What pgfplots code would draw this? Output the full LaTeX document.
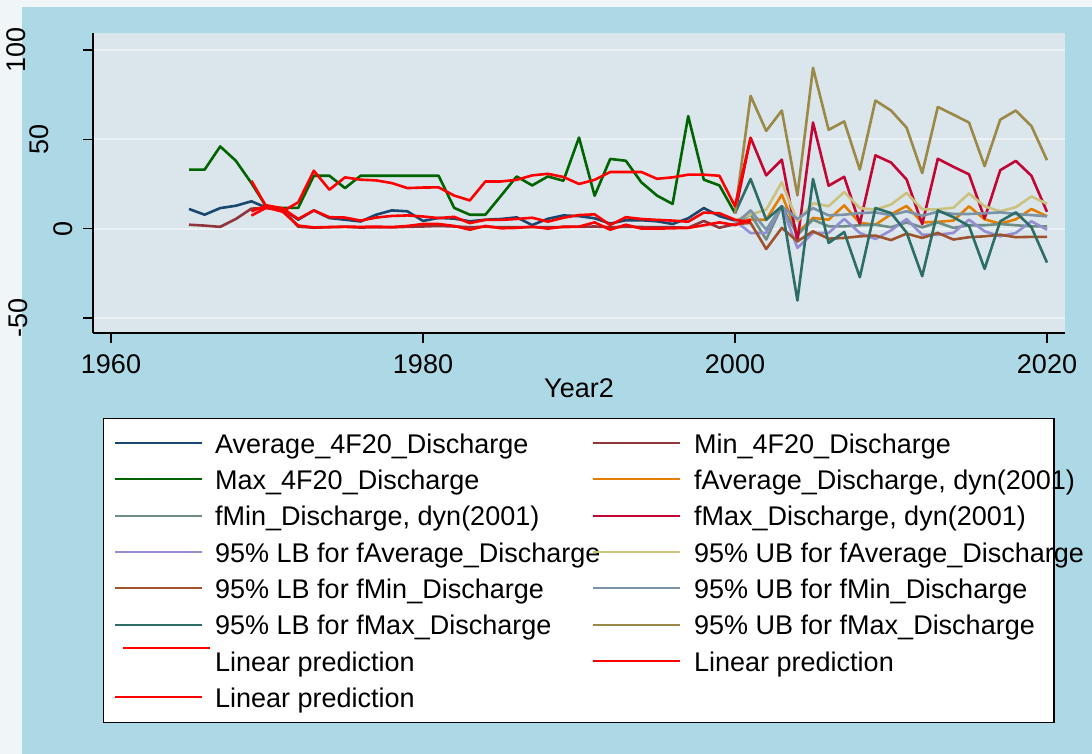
\documentclass[border=0pt]{standalone}
\usepackage{pgfplots}
\pgfplotsset{compat=1.18}
\usepackage{fontspec}
\setmainfont{Liberation Sans}

% Stata s2color palette
\definecolor{pagewhite}{RGB}{240,246,248}
\definecolor{graphblue}{RGB}{173,216,230}
\definecolor{plotbg}{RGB}{218,230,235}
\definecolor{gridc}{RGB}{236,242,244}
\definecolor{snavy}{RGB}{26,71,111}
\definecolor{smaroon}{RGB}{144,53,59}
\definecolor{sgreen}{RGB}{0,100,0}
\definecolor{sdkorange}{RGB}{227,126,0}
\definecolor{steal}{RGB}{110,142,132}
\definecolor{scranberry}{RGB}{193,5,52}
\definecolor{slavender}{RGB}{147,141,210}
\definecolor{skhaki}{RGB}{202,194,126}
\definecolor{ssienna}{RGB}{160,82,45}
\definecolor{semidblue}{RGB}{123,146,168}
\definecolor{semerald}{RGB}{45,109,102}
\definecolor{sbrown}{RGB}{156,136,71}
\definecolor{sred}{RGB}{255,0,0}

\newcommand{\lbl}{\fontsize{27bp}{32bp}\selectfont}

\begin{document}
\begin{tikzpicture}
\begin{scope}[x=1bp,y=1bp]
\path[use as bounding box] (0,0) rectangle (1092,754);
\fill[pagewhite] (0,0) rectangle (1092,754);
\fill[graphblue] (21.7,0) rectangle (1092,747.3);
\end{scope}

\begin{axis}[
  at={(93bp,421bp)}, anchor=south west,
  scale only axis, width=972bp, height=300bp,
  xmin=1958.846, xmax=2021.154,
  ymin=-58.4, ymax=109.5,
  axis x line*=bottom, axis y line*=left,
  axis line style={black, line width=1.3bp, -},
  axis background/.style={fill=plotbg},
  xtick={1960,1980,2000,2020},
  xticklabels={1960,1980,2000,2020},
  ytick={-50,0,50,100},
  yticklabels={},
  tick align=outside,
  major tick length=10bp,
  tick style={black, line width=1.3bp},
  ymajorgrids,
  grid style={gridc, line width=2bp},
  xticklabel style={font=\lbl, anchor=base, yshift=-30.3bp},
  xlabel={Year2},
  xlabel style={font=\lbl, at={(axis description cs:0.5,0)}, anchor=base, yshift=-65bp},
  every axis plot/.append style={line width=2.6bp, line join=round},
]
% observed series
\addplot[snavy] coordinates {(1965,11) (1966,7.8) (1967,11.5) (1968,12.8) (1969,15.3) (1970,11.6) (1971,11) (1972,5) (1973,10.2) (1974,5.9) (1975,5) (1976,4) (1977,7.8) (1978,10.2) (1979,9.7) (1980,4.3) (1981,6) (1982,5.6) (1983,4.1) (1984,5) (1985,5.4) (1986,6.3) (1987,2) (1988,5.5) (1989,7.4) (1990,7) (1991,5.8) (1992,2.8) (1993,4.7) (1994,4.7) (1995,4.1) (1996,2.6) (1997,5.8) (1998,11.5) (1999,7) (2000,4.5)};
\addplot[smaroon] coordinates {(1965,2.2) (1966,1.7) (1967,1) (1968,5.4) (1969,11.2) (1970,11.6) (1971,10.7) (1972,1.1) (1973,0.5) (1974,0.8) (1975,1) (1976,0.6) (1977,0.8) (1978,0.7) (1979,1) (1980,1.2) (1981,1.5) (1982,1.2) (1983,0.8) (1984,1) (1985,0.8) (1986,0.8) (1987,0.9) (1988,0.8) (1989,0.9) (1990,1) (1991,1.2) (1992,0.8) (1993,1) (1994,0.9) (1995,0.8) (1996,0.8) (1997,0.5) (1998,4.3) (1999,0.5) (2000,2.5)};
\addplot[sgreen] coordinates {(1965,33) (1966,33) (1967,46) (1968,38) (1969,25.5) (1970,11.6) (1971,11.6) (1972,11.6) (1973,29.6) (1974,29.6) (1975,22.7) (1976,29.6) (1977,29.6) (1978,29.6) (1979,29.6) (1980,29.6) (1981,29.6) (1982,11.6) (1983,7.8) (1984,7.8) (1985,18.4) (1986,29.2) (1987,24.2) (1988,29.2) (1989,26.8) (1990,51) (1991,18.4) (1992,39) (1993,38) (1994,25.9) (1995,18.5) (1996,13.8) (1997,63) (1998,27.4) (1999,24.2) (2000,8.7)};
% dynamic forecasts from 2001
\addplot[sdkorange] coordinates {(2000,4.5) (2001,5) (2002,5) (2003,19) (2004,-2.4) (2005,6) (2006,5) (2007,13) (2008,3.2) (2009,2.2) (2010,8) (2011,12.7) (2012,3.5) (2013,3.8) (2014,4.5) (2015,12.5) (2016,5.2) (2017,2.8) (2018,5.2) (2019,11) (2020,6.9)};
\addplot[steal] coordinates {(2000,2.5) (2001,8) (2002,-6.1) (2003,12.5) (2004,-3.4) (2005,5) (2006,1.3) (2007,1.3) (2008,1.9) (2009,2.2) (2010,0.8) (2011,3.5) (2012,0.7) (2013,3.5) (2014,0.4) (2015,1.9) (2016,1.9) (2017,2.6) (2018,1.9) (2019,1.3) (2020,1.3)};
\addplot[scranberry] coordinates {(2000,8.7) (2001,50.9) (2002,29.8) (2003,38.6) (2004,-7.1) (2005,59.4) (2006,24) (2007,29) (2008,2.8) (2009,41) (2010,37) (2011,27.5) (2012,2.5) (2013,39.1) (2014,34.6) (2015,30.4) (2016,5.7) (2017,32.7) (2018,37.9) (2019,29.6) (2020,9.4)};
% 95% bounds
\addplot[slavender] coordinates {(2000,4.5) (2001,-2.5) (2002,-2.4) (2003,12.5) (2004,-10.8) (2005,-2.4) (2006,-2.4) (2007,5.4) (2008,-2.4) (2009,-5.8) (2010,-1) (2011,5.4) (2012,-3.4) (2013,-3.4) (2014,-2.4) (2015,5) (2016,-1.5) (2017,-4.3) (2018,-2.4) (2019,4.1) (2020,-0.6)};
\addplot[skhaki] coordinates {(2000,4.5) (2001,8) (2002,10.6) (2003,26) (2004,4.1) (2005,14.2) (2006,12.6) (2007,20.5) (2008,11.5) (2009,10.6) (2010,13.5) (2011,20) (2012,10.8) (2013,10.8) (2014,11.7) (2015,19.7) (2016,12.5) (2017,9.7) (2018,12) (2019,18) (2020,13.9)};
\addplot[ssienna] coordinates {(2000,2.5) (2001,3.2) (2002,-11.4) (2003,0.4) (2004,-7.1) (2005,-1.5) (2006,-5.6) (2007,-5.2) (2008,-4.3) (2009,-3.9) (2010,-6.4) (2011,-2.8) (2012,-5.2) (2013,-2.4) (2014,-6.1) (2015,-4.8) (2016,-4.3) (2017,-3.4) (2018,-4.8) (2019,-4.6) (2020,-4.6)};
\addplot[semidblue] coordinates {(2000,2.5) (2001,10.2) (2002,-0.6) (2003,12.5) (2004,5.4) (2005,11.5) (2006,7.4) (2007,7.8) (2008,8.7) (2009,9.1) (2010,7.6) (2011,9.7) (2012,7.2) (2013,9.5) (2014,8.2) (2015,8.2) (2016,8.6) (2017,9.1) (2018,8.2) (2019,7.6) (2020,6.9)};
\addplot[semerald] coordinates {(2000,8.7) (2001,27.8) (2002,5) (2003,12.5) (2004,-40.2) (2005,27.8) (2006,-8) (2007,-1.9) (2008,-27.2) (2009,11.5) (2010,8.7) (2011,-2.2) (2012,-26.6) (2013,10.2) (2014,6.4) (2015,1.5) (2016,-22.5) (2017,4.1) (2018,9.1) (2019,0.8) (2020,-19)};
\addplot[sbrown] coordinates {(2000,8.7) (2001,74.3) (2002,54.7) (2003,66.1) (2004,18.6) (2005,90) (2006,55.3) (2007,60) (2008,33) (2009,71.7) (2010,66.1) (2011,56.5) (2012,31.1) (2013,68.1) (2014,63.8) (2015,59.4) (2016,35) (2017,61) (2018,66.1) (2019,57.4) (2020,38.3)};
% linear predictions
\addplot[sred] coordinates {(1969,26.8) (1970,11.6) (1971,9.7) (1972,14.7) (1973,32.4) (1974,21.8) (1975,28.7) (1976,27.4) (1977,27) (1978,25.5) (1979,22.7) (1980,23) (1981,23.1) (1982,18.5) (1983,15.8) (1984,26.4) (1985,26.4) (1986,27.3) (1987,29.8) (1988,30.7) (1989,28.9) (1990,25) (1991,27.3) (1992,31.7) (1993,31.7) (1994,31.7) (1995,27.9) (1996,28.7) (1997,30.2) (1998,30.2) (1999,29.6) (2000,12.5) (2001,51)};
\addplot[sred] coordinates {(1969,9.7) (1970,13) (1971,11.4) (1972,5.4) (1973,10.2) (1974,6.4) (1975,6.2) (1976,4.5) (1977,6.2) (1978,7.1) (1979,7.4) (1980,6.8) (1981,5.9) (1982,6.6) (1983,3.1) (1984,4.9) (1985,4.9) (1986,5.4) (1987,6.1) (1988,3.9) (1989,6.1) (1990,7.6) (1991,8) (1992,2) (1993,6.4) (1994,5.4) (1995,4.9) (1996,4.5) (1997,3.9) (1998,9) (1999,8.6) (2000,5) (2001,3.5)};
\addplot[sred] coordinates {(1969,7.3) (1970,11.9) (1971,9.5) (1972,1.7) (1973,0.7) (1974,0.9) (1975,1.1) (1976,1) (1977,1.1) (1978,0.9) (1979,1.5) (1980,2.6) (1981,2.6) (1982,1.5) (1983,-0.6) (1984,1.5) (1985,0.2) (1986,0.4) (1987,1.1) (1988,0) (1989,1.1) (1990,1.1) (1991,3.5) (1992,-0.6) (1993,2.2) (1994,0) (1995,0) (1996,0.2) (1997,0.4) (1998,1.9) (1999,3.5) (2000,2) (2001,5)};
\end{axis}

\begin{scope}[x=1bp,y=1bp]
% rotated y tick labels
\node[font=\lbl, rotate=90, anchor=base, inner sep=0] at (72,525.3) {0};
\node[font=\lbl, rotate=90, anchor=base, inner sep=0] at (48,614.6) {50};
\node[font=\lbl, rotate=90, anchor=base, inner sep=0] at (27,436) {-50};
\node[font=\lbl, rotate=90, anchor=base, inner sep=0] at (25,704) {100};

% legend
\draw[fill=white, line width=1.2bp] (103.3,31.7) rectangle (1054,335.7);
\foreach \c/\t [count=\k from 0] in {
  snavy/Average\_4F20\_Discharge,
  sgreen/Max\_4F20\_Discharge,
  steal/{fMin\_Discharge, dyn(2001)},
  slavender/95\% LB for fAverage\_Discharge,
  ssienna/95\% LB for fMin\_Discharge,
  semerald/95\% LB for fMax\_Discharge,
  sred/Linear prediction,
  sred/Linear prediction}{
  \pgfmathsetmacro{\b}{754-453.3-36.33*\k}
  \ifnum\k=6
    \draw[\c, line width=2.2bp] (123.3,\b+23) -- (210,\b+23);
  \else
    \draw[\c, line width=2.2bp] (115,\b+10.3) -- (201.7,\b+10.3);
  \fi
  \node[font=\lbl, anchor=base west, inner sep=0] at (215,\b) {\t};
}
\foreach \c/\t [count=\k from 0] in {
  smaroon/Min\_4F20\_Discharge,
  sdkorange/{fAverage\_Discharge, dyn(2001)},
  scranberry/{fMax\_Discharge, dyn(2001)},
  skhaki/95\% UB for fAverage\_Discharge,
  semidblue/95\% UB for fMin\_Discharge,
  sbrown/95\% UB for fMax\_Discharge,
  sred/Linear prediction}{
  \pgfmathsetmacro{\b}{754-453.3-36.33*\k}
  \draw[\c, line width=2.2bp] (593.3,\b+10.3) -- (680,\b+10.3);
  \node[font=\lbl, anchor=base west, inner sep=0] at (694,\b) {\t};
}
\end{scope}
\end{tikzpicture}
\end{document}
